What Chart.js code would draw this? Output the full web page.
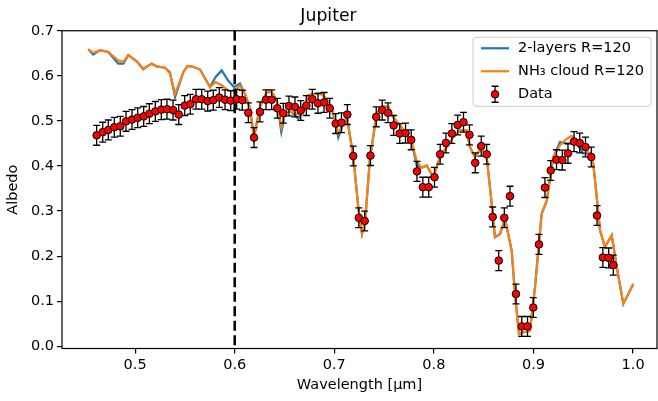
<!DOCTYPE html>
<html>
<head>
<meta charset="utf-8">
<script src="https://cdn.jsdelivr.net/npm/chart.js@4/dist/chart.umd.min.js"></script>
<style>
  html, body { margin: 0; padding: 0; background: #fff; overflow: hidden; }
  #wrap { width: 658px; height: 401px; }
  canvas { display: block; }
</style>
</head>
<body>
<div id="wrap"><canvas id="albedoChart" width="658" height="401"></canvas></div>
<script>
// Jupiter albedo: observed points with error bars and two model spectra

const dataWave = [0.4614,0.4675,0.4731,0.4791,0.4851,0.4909,0.4969,0.5026,0.5086,0.5143,
  0.5203,0.5263,0.5320,0.5381,0.5438,0.5498,0.5554,0.5611,0.5669,0.5729,
  0.5785,0.5845,0.5903,0.5960,0.6020,0.6076,0.6137,0.6194,0.6254,0.6314,
  0.6371,0.6428,0.6488,0.6545,0.6605,0.6663,0.6719,0.6779,0.6836,0.6897,
  0.6954,0.7014,0.7072,0.7131,0.7190,0.7246,0.7305,0.7363,0.7421,0.7481,
  0.7539,0.7596,0.7657,0.7715,0.7772,0.7830,0.7889,0.7948,0.8006,0.8063,
  0.8121,0.8180,0.8239,0.8297,0.8357,0.8415,0.8475,0.8530,0.8590,0.8651,
  0.8707,0.8764,0.8824,0.8882,0.8940,0.8998,0.9055,0.9115,0.9173,0.9231,
  0.9289,0.9346,0.9407,0.9464,0.9522,0.9580,0.9638,0.9696,0.9755,0.9801];

const dataAlbedo = [0.468,0.475,0.480,0.486,0.488,0.499,0.503,0.507,0.510,0.516,
  0.521,0.525,0.526,0.524,0.514,0.534,0.537,0.548,0.548,0.544,
  0.546,0.552,0.547,0.545,0.548,0.546,0.518,0.463,0.520,0.547,
  0.547,0.528,0.517,0.533,0.531,0.523,0.534,0.548,0.539,0.541,
  0.528,0.494,0.496,0.514,0.422,0.285,0.278,0.423,0.509,0.524,
  0.518,0.490,0.472,0.473,0.458,0.388,0.353,0.353,0.375,0.426,
  0.451,0.472,0.491,0.497,0.469,0.407,0.444,0.426,0.287,0.190,
  0.285,0.333,0.116,0.044,0.044,0.086,0.226,0.352,0.390,0.414,
  0.413,0.428,0.454,0.451,0.442,0.420,0.290,0.197,0.196,0.180];

const albedoErr = 0.022;

const modelWave = [0.4530,0.4580,0.4648,0.4731,0.4831,0.4882,0.4932,0.5016,0.5082,0.5167,
  0.5217,0.5300,0.5350,0.5401,0.5484,0.5526,0.5584,0.5652,0.5752,0.5807,
  0.5869,0.5936,0.5993,0.6053,0.6103,0.6153,0.6194,0.6254,0.6321,0.6371,
  0.6422,0.6468,0.6510,0.6570,0.6639,0.6689,0.6739,0.6806,0.6871,0.6927,
  0.6974,0.7012,0.7040,0.7090,0.7127,0.7191,0.7241,0.7278,0.7308,0.7358,
  0.7426,0.7476,0.7542,0.7592,0.7660,0.7727,0.7777,0.7827,0.7877,0.7928,
  0.7994,0.8061,0.8128,0.8195,0.8262,0.8329,0.8362,0.8413,0.8473,0.8530,
  0.8563,0.8613,0.8664,0.8714,0.8781,0.8814,0.8854,0.8898,0.8965,0.9015,
  0.9082,0.9133,0.9199,0.9266,0.9333,0.9384,0.9434,0.9500,0.9567,0.9600,
  0.9635,0.9668,0.9718,0.9785,0.9835,0.9902,1.0002];

const twoLayers = [0.659,0.647,0.657,0.653,0.627,0.627,0.646,0.632,0.616,0.627,
  0.621,0.618,0.608,0.553,0.608,0.622,0.620,0.614,0.575,0.597,
  0.612,0.589,0.575,0.583,0.560,0.529,0.463,0.532,0.564,0.564,
  0.546,0.475,0.520,0.520,0.505,0.523,0.557,0.560,0.561,0.546,
  0.527,0.497,0.463,0.494,0.508,0.420,0.308,0.249,0.274,0.417,
  0.516,0.532,0.531,0.508,0.490,0.468,0.453,0.401,0.396,0.401,
  0.375,0.420,0.442,0.464,0.479,0.479,0.442,0.419,0.439,0.419,
  0.353,0.242,0.249,0.283,0.212,0.116,0.027,0.031,0.034,0.131,
  0.294,0.323,0.420,0.453,0.449,0.450,0.449,0.428,0.428,0.405,
  0.331,0.257,0.220,0.246,0.177,0.094,0.138];

const nh3Cloud = [0.659,0.651,0.657,0.653,0.634,0.631,0.646,0.632,0.614,0.627,
  0.621,0.618,0.605,0.560,0.608,0.622,0.620,0.614,0.575,0.586,
  0.579,0.567,0.566,0.578,0.560,0.529,0.463,0.532,0.564,0.564,
  0.546,0.486,0.520,0.520,0.514,0.523,0.557,0.560,0.559,0.546,
  0.527,0.497,0.472,0.494,0.508,0.420,0.308,0.249,0.274,0.417,
  0.516,0.532,0.531,0.508,0.490,0.468,0.453,0.412,0.396,0.401,
  0.375,0.420,0.442,0.464,0.479,0.479,0.442,0.419,0.439,0.419,
  0.353,0.242,0.249,0.283,0.212,0.116,0.027,0.031,0.034,0.131,
  0.294,0.323,0.420,0.446,0.460,0.467,0.457,0.438,0.428,0.405,
  0.331,0.257,0.220,0.246,0.177,0.094,0.138];

const xTicks = [0.5, 0.6, 0.7, 0.8, 0.9, 1.0];
const yTicks = [0.0, 0.1, 0.2, 0.3, 0.4, 0.5, 0.6, 0.7];
const cutWave = 0.6;
const legendLabels = ['2-layers R=120', 'NH\u2083 cloud R=120', 'Data'];

const BLUE = '#1f77b4';
const ORANGE = '#ff7f0e';
const FONT = '"DejaVu Sans", sans-serif';
const fontPx = 14.5;

const toXY = (xs, ys) => xs.map((x, i) => ({ x: x, y: ys[i] }));

function drawErrorBar(ctx, x, yTop, yBot, cap) {
  ctx.beginPath();
  ctx.moveTo(x, yTop); ctx.lineTo(x, yBot);
  ctx.moveTo(x - cap, yTop); ctx.lineTo(x + cap, yTop);
  ctx.moveTo(x - cap, yBot); ctx.lineTo(x + cap, yBot);
  ctx.stroke();
}

function drawMarker(ctx, x, y) {
  ctx.beginPath();
  ctx.arc(x, y, 3.8, 0, Math.PI * 2);
  ctx.fillStyle = '#ff0000';
  ctx.fill();
  ctx.lineWidth = 1;
  ctx.strokeStyle = '#000';
  ctx.stroke();
}

// dashed marker line, error bars, frame and an inset legend
const mplExtras = {
  id: 'mplExtras',
  beforeDatasetDraw(chart, args) {
    if (args.index !== 2) return;
    const { ctx, chartArea: a, scales: { x, y } } = chart;
    ctx.save();
    const xc = x.getPixelForValue(cutWave);
    ctx.setLineDash([10, 4.5]);
    ctx.lineWidth = 2.5;
    ctx.strokeStyle = '#000';
    ctx.beginPath();
    ctx.moveTo(xc, a.top); ctx.lineTo(xc, a.bottom);
    ctx.stroke();
    ctx.setLineDash([]);
    ctx.lineWidth = 1.3;
    dataWave.forEach((w, i) => {
      drawErrorBar(ctx, x.getPixelForValue(w),
        y.getPixelForValue(dataAlbedo[i] + albedoErr),
        y.getPixelForValue(dataAlbedo[i] - albedoErr), 3.5);
    });
    ctx.restore();
  },
  afterDraw(chart) {
    const { ctx, chartArea: a } = chart;
    ctx.save();
    ctx.strokeStyle = '#000';
    ctx.lineWidth = 1.2;
    ctx.strokeRect(a.left, a.top, a.right - a.left, a.bottom - a.top);

    // legend box
    ctx.font = fontPx + 'px ' + FONT;
    const maxW = Math.max(...legendLabels.map(t => ctx.measureText(t).width));
    const right = a.right - 6;
    const top = a.top + 6.5;
    const width = 45 + maxW + 7;
    const left = right - width;
    const height = 69;
    ctx.beginPath();
    ctx.roundRect(left, top, width, height, 3);
    ctx.fillStyle = 'rgba(255,255,255,0.8)';
    ctx.fill();
    ctx.strokeStyle = '#cccccc';
    ctx.lineWidth = 1;
    ctx.stroke();

    const rowY = [top + 11, top + 34, top + 57];
    ctx.lineWidth = 2.2;
    [BLUE, ORANGE].forEach((c, i) => {
      ctx.strokeStyle = c;
      ctx.beginPath();
      ctx.moveTo(left + 8, rowY[i]); ctx.lineTo(left + 36, rowY[i]);
      ctx.stroke();
    });
    ctx.strokeStyle = '#000';
    ctx.lineWidth = 1.3;
    drawErrorBar(ctx, left + 22, rowY[2] - 8, rowY[2] + 8, 3.5);
    drawMarker(ctx, left + 22, rowY[2]);

    ctx.fillStyle = '#000';
    ctx.textBaseline = 'middle';
    ctx.textAlign = 'left';
    legendLabels.forEach((t, i) => ctx.fillText(t, left + 45, rowY[i]));
    ctx.restore();
  }
};

const tickFont = { family: FONT, size: fontPx };

new Chart(document.getElementById('albedoChart'), {
  type: 'scatter',
  data: {
    datasets: [
      {
        label: legendLabels[0],
        data: toXY(modelWave, twoLayers),
        showLine: true,
        borderColor: BLUE,
        borderWidth: 2.2,
        pointRadius: 0,
        order: 2
      },
      {
        label: legendLabels[1],
        data: toXY(modelWave, nh3Cloud),
        showLine: true,
        borderColor: ORANGE,
        borderWidth: 2.2,
        pointRadius: 0,
        order: 1
      },
      {
        label: legendLabels[2],
        data: toXY(dataWave, dataAlbedo),
        showLine: false,
        pointRadius: 3.8,
        pointBackgroundColor: '#ff0000',
        pointBorderColor: '#000',
        pointBorderWidth: 1,
        order: 0
      }
    ]
  },
  options: {
    responsive: false,
    animation: false,
    devicePixelRatio: 1,
    layout: { autoPadding: false, padding: { left: 0, right: 1, top: 0, bottom: 0 } },
    plugins: {
      legend: { display: false },
      tooltip: { enabled: false },
      title: {
        display: true,
        text: 'Jupiter',
        color: '#000',
        font: { family: FONT, size: 17.3, weight: 'normal' },
        padding: { top: 6, bottom: 4 }
      }
    },
    scales: {
      x: {
        type: 'linear',
        min: 0.4266,
        max: 1.024,
        afterBuildTicks: s => { s.ticks = xTicks.map(v => ({ value: v })); },
        afterFit: s => { s.height = 52.5; },
        ticks: {
          callback: v => v.toFixed(1),
          color: '#000',
          font: tickFont,
          padding: 3,
          maxRotation: 0,
          autoSkip: false
        },
        grid: { drawOnChartArea: false, tickLength: 5, color: '#000', lineWidth: 1.2 },
        border: { display: false },
        title: {
          display: true,
          text: 'Wavelength [\u03bcm]',
          color: '#000',
          font: tickFont,
          padding: { top: 0, bottom: 7 }
        }
      },
      y: {
        min: -0.005,
        max: 0.7,
        afterBuildTicks: s => { s.ticks = yTicks.map(v => ({ value: v })); },
        afterFit: s => { s.width = 62; },
        ticks: {
          callback: v => v.toFixed(1),
          color: '#000',
          font: tickFont,
          padding: 3,
          autoSkip: false
        },
        grid: { drawOnChartArea: false, tickLength: 5, color: '#000', lineWidth: 1.2 },
        border: { display: false },
        title: {
          display: true,
          text: 'Albedo',
          color: '#000',
          font: tickFont,
          padding: { top: 5, bottom: 0 }
        }
      }
    }
  },
  plugins: [mplExtras]
});
</script>
</body>
</html>
